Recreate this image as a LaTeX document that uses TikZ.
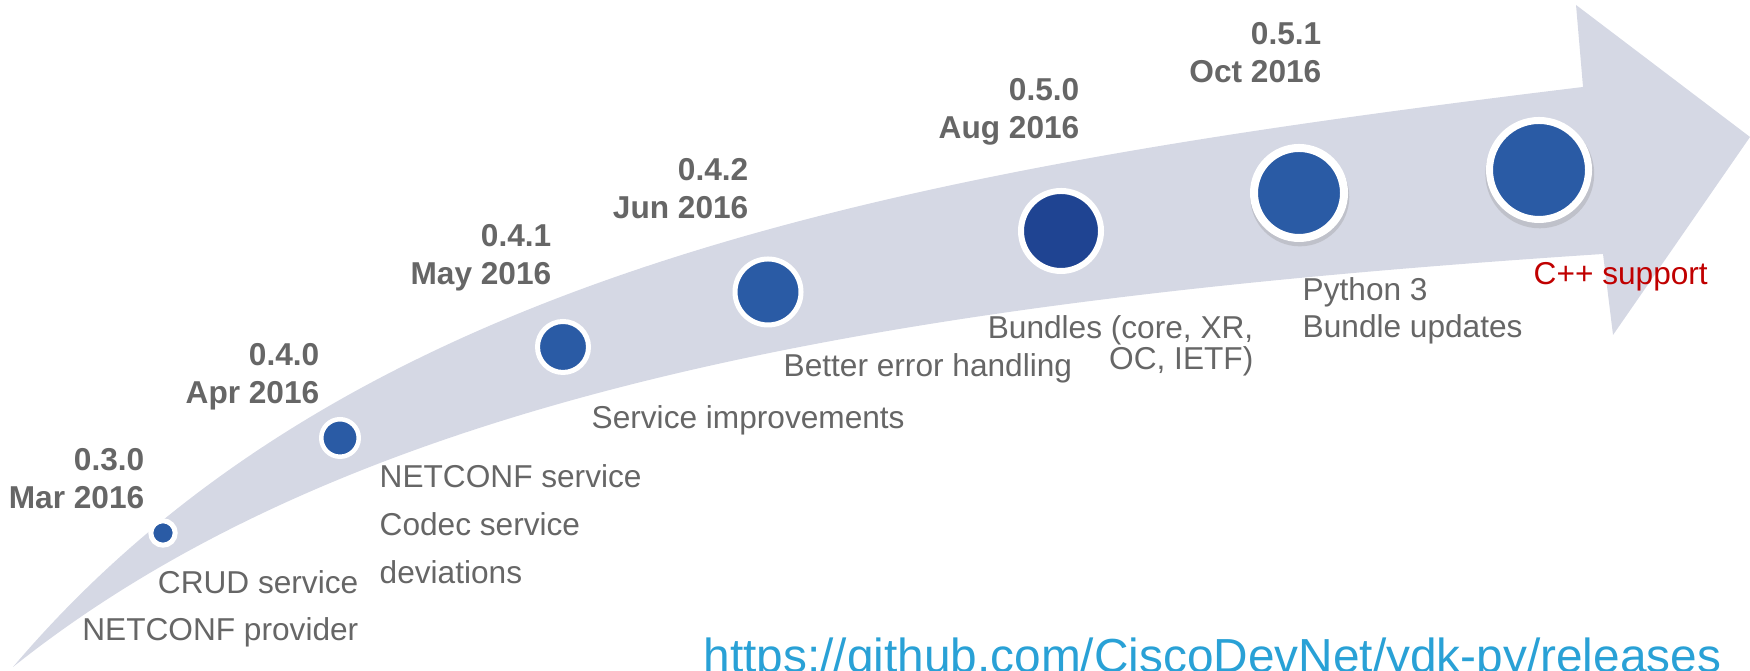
\documentclass[tikz,border=0pt]{standalone}
\usepackage{fontspec}
\setmainfont{Liberation Sans}
\usetikzlibrary{shadows}
\definecolor{arrowgray}{RGB}{213,216,228}
\definecolor{dotblue}{RGB}{42,91,165}
\definecolor{dotdark}{RGB}{31,68,146}
\definecolor{textgray}{RGB}{102,102,102}
\definecolor{cppred}{RGB}{192,0,0}
\definecolor{linkblue}{RGB}{41,161,214}
\tikzset{
  reldot/.style={circle, fill=dotblue, draw=white, inner sep=0pt},
  dotshadow/.style={drop shadow={shadow xshift=0.2pt, shadow yshift=-1pt, shadow scale=1.1, opacity=0.25}},
  release/.style={font=\fontsize{9}{10.8}\selectfont\bfseries, text=textgray, align=right, anchor=north east, inner sep=0pt},
  feature/.style={font=\fontsize{9}{10.8}\selectfont, text=textgray, inner sep=0pt}
}
\begin{document}
\begin{tikzpicture}
  \useasboundingbox (0,0) rectangle (17.5,6.71);
  \clip (0,0) rectangle (17.5,6.71);
  %arrow
  \fill[arrowgray] (0.13,0.04) .. controls (3.5,4.01) and (9.0,5.01) .. (15.83,5.84) -- (15.76,6.66) -- (17.5,5.34) -- (16.13,3.36) -- (16.03,4.17) .. controls (9.0,3.71) and (3.6,2.81) .. (0.13,0.04) -- cycle;
  %releases
  \node[reldot, minimum size=0.244cm, line width=0.05cm] (d030) at (1.63,1.38) {};
  \node[reldot, minimum size=0.375cm, line width=0.045cm] (d040) at (3.40,2.33) {};
  \node[reldot, minimum size=0.51cm, line width=0.05cm] (d041) at (5.63,3.24) {};
  \node[reldot, minimum size=0.66cm, line width=0.05cm] (d042) at (7.68,3.79) {};
  \node[reldot, fill=dotdark, minimum size=0.80cm, line width=0.06cm] (d050) at (10.61,4.40) {};
  \node[reldot, dotshadow, minimum size=0.90cm, line width=0.08cm] (d051) at (12.99,4.78) {};
  \node[reldot, dotshadow, minimum size=0.99cm, line width=0.07cm] (dcpp) at (15.39,5.01) {};
  %versions
  \node[release] (l030) at (1.45,2.23) {0.3.0\\Mar 2016};
  \node[release] (l040) at (3.20,3.28) {0.4.0\\Apr 2016};
  \node[release] (l041) at (5.52,4.47) {0.4.1\\May 2016};
  \node[release] (l042) at (7.49,5.13) {0.4.2\\Jun 2016};
  \node[release] (l050) at (10.80,5.93) {0.5.0\\Aug 2016};
  \node[release] (l051) at (13.22,6.49) {0.5.1\\Oct 2016};
  %features
  \node[feature, font=\fontsize{9}{13.4}\selectfont, align=right, anchor=north east] (t030) at (3.59,1.01) {CRUD service\\NETCONF provider};
  \node[feature, font=\fontsize{9}{13.7}\selectfont, align=left, anchor=north west] (t040) at (3.79,2.07) {NETCONF service\\Codec service\\deviations};
  \node[feature, anchor=north west] (t041) at (5.91,2.66) {Service improvements};
  \node[feature, anchor=north west] (t042) at (7.83,3.18) {Better error handling};
  \node[feature, font=\fontsize{9}{8.8}\selectfont, align=right, anchor=north east] (t050) at (12.54,3.56) {Bundles (core, XR,\\OC, IETF)};
  \node[feature, font=\fontsize{9}{10.5}\selectfont, align=left, anchor=north west] (t051) at (13.02,3.94) {Python 3\\Bundle updates};
  \node[feature, text=cppred, anchor=north west] (tcpp) at (15.33,4.09) {C++ support};
  %link
  \node[font=\fontsize{13.6}{16}\selectfont, text=linkblue, anchor=base west, inner sep=0pt] (url) at (7.03,-0.02) {https://github.com/CiscoDevNet/ydk-py/releases};
\end{tikzpicture}
\end{document}
